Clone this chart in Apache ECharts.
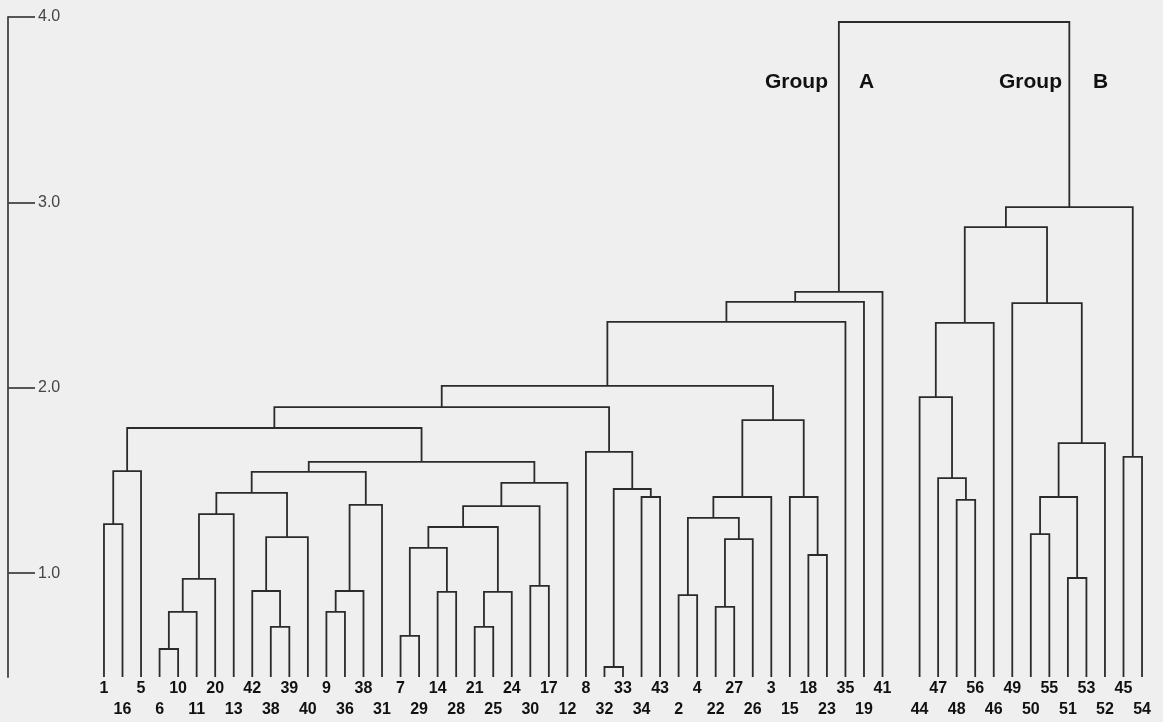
<!DOCTYPE html>
<html><head><meta charset="utf-8">
<script src="https://cdn.jsdelivr.net/npm/echarts@6/dist/echarts.min.js"></script>
<style>html,body{margin:0;padding:0;background:#efefef}#c{width:1163px;height:722px}</style>
</head><body><div id="c"></div>
<script>
// Leaf labels in dendrogram order ('' marks the blank slot between the two groups)
const leafLabels = ['1','16','5','6','10','11','20','13','42','38','39','40','9','36','38','31',
  '7','29','14','28','21','25','24','30','17','12','8','32','33','34','43','2','4','22','27','26',
  '3','15','18','23','35','19','41','','44','47','48','56','46','49','50','55','51','53','52','45','54'];

// Merges: children are leaf slot indices (numbers) or earlier merges ('m<k>')
const mergeChildren = [
  [0,1],['m0',2],[3,4],['m2',5],['m3',6],['m4',7],[9,10],[8,'m6'],['m7',11],['m5','m8'],
  [12,13],['m10',14],['m11',15],['m9','m12'],[16,17],[18,19],['m14','m15'],[20,21],['m17',22],['m16','m18'],
  [23,24],['m19','m20'],['m21',25],['m13','m22'],['m1','m23'],[27,28],[29,30],['m25','m26'],[26,'m27'],['m24','m28'],
  [31,32],[33,34],['m31',35],['m30','m32'],['m33',36],[38,39],[37,'m35'],['m34','m36'],['m29','m37'],['m38',40],
  ['m39',41],['m40',42],
  [46,47],[45,'m42'],[44,'m43'],['m44',48],[50,51],[52,53],['m46','m47'],['m48',54],[49,'m49'],['m45','m50'],
  [55,56],['m51','m52'],['m41','m53']
];
const mergeHeights = [
  1.265,1.551,0.591,0.791,0.969,1.319,0.710,0.904,1.195,1.433,
  0.791,0.904,1.368,1.546,0.662,0.899,1.136,0.710,0.899,1.249,
  0.931,1.362,1.487,1.600,1.783,0.494,1.411,1.454,1.654,1.896,
  0.882,0.818,1.184,1.298,1.411,1.098,1.411,1.826,2.010,2.355,
  2.463,2.517,
  1.395,1.513,1.950,2.350,1.211,0.974,1.411,1.702,2.457,2.867,
  1.627,2.975,3.973
];
const yTicks = [1, 2, 3, 4];
const yMin = 0.44, yMax = 4.0;
const groupLabels = [['Group','A'],['Group','B']];

// build segments (x in slot units, y in distance units)
const nodeX = [];
function child(c){
  if (typeof c === 'number') return {x:c, h:yMin};
  const k = +c.slice(1); return {x:nodeX[k], h:mergeHeights[k]};
}
const segs = mergeChildren.map((p,k)=>{
  const a = child(p[0]), b = child(p[1]);
  nodeX[k] = (a.x + b.x) / 2;
  return [a.x, a.h, b.x, b.h, mergeHeights[k]];
});

const ordinal = []; let cnt = 0;
leafLabels.forEach((l,i)=>{ ordinal[i] = cnt; if (l !== '') cnt++; });

const gridLeft = 94.7, gridRight = 11.7, gridTop = 17, gridBottom = 45;
const FONT = '"Liberation Sans", Arial, sans-serif';
const chart = echarts.init(document.getElementById('c'));
chart.setOption({
  backgroundColor: '#efefef',
  animation: false,
  grid: {left: gridLeft, right: gridRight, top: gridTop, bottom: gridBottom},
  xAxis: [
    {type:'category', data: leafLabels, boundaryGap: true,
     axisLine:{show:false, onZero:false}, axisTick:{show:false}, splitLine:{show:false},
     axisLabel:{interval:0, margin:1, lineHeight:21, fontSize:16, fontWeight:'bold',
       fontFamily: FONT, color:'#111',
       formatter:(v,i)=> v === '' ? '' : (ordinal[i] % 2 === 0 ? v : '\n' + v)}},
    {type:'value', min:-0.5, max:leafLabels.length - 0.5, show:false, axisLine:{onZero:false}}
  ],
  yAxis: {type:'value', min:yMin, max:yMax, position:'left', offset: gridLeft - 8,
    splitLine:{show:false},
    axisLine:{show:true, onZero:false, lineStyle:{color:'#444', width:1.8}},
    axisTick:{show:true, inside:true, length:27, customValues: yTicks, lineStyle:{color:'#444', width:1.8}},
    axisLabel:{show:true, inside:true, margin:30, customValues: yTicks, color:'#444', fontSize:16,
      fontFamily: FONT, formatter:v=>v.toFixed(1)}},
  series: [{
    type:'custom', xAxisIndex:1, yAxisIndex:0, data: segs, clip:false,
    encode:{x:[0,2], y:[1,3,4]},
    renderItem:(params, api)=>{
      const xa=api.value(0), ya=api.value(1), xb=api.value(2), yb=api.value(3), h=api.value(4);
      return {type:'polyline', shape:{points:[api.coord([xa,ya]), api.coord([xa,h]), api.coord([xb,h]), api.coord([xb,yb])]},
        style:{stroke:'#2b2b2b', lineWidth:1.8, fill:null}};
    }
  }],
  graphic: [
    {type:'text', x:828, y:82, style:{text:groupLabels[0][0], align:'right', verticalAlign:'middle', font:'bold 21px ' + FONT, fill:'#111'}},
    {type:'text', x:859, y:82, style:{text:groupLabels[0][1], align:'left', verticalAlign:'middle', font:'bold 21px ' + FONT, fill:'#111'}},
    {type:'text', x:1062, y:82, style:{text:groupLabels[1][0], align:'right', verticalAlign:'middle', font:'bold 21px ' + FONT, fill:'#111'}},
    {type:'text', x:1093, y:82, style:{text:groupLabels[1][1], align:'left', verticalAlign:'middle', font:'bold 21px ' + FONT, fill:'#111'}}
  ]
});
</script></body></html>
